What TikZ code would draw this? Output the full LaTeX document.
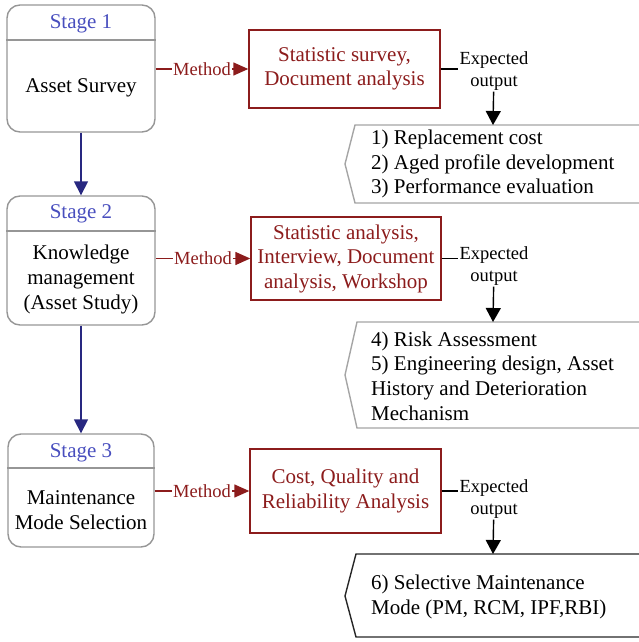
\documentclass[tikz,border=0pt]{standalone}
\usepackage{fontspec}
\setmainfont{Liberation Serif}
\newfontfamily\timesfont{Liberation Serif}
\usetikzlibrary{arrows.meta}
\definecolor{stagegray}{RGB}{150,150,150}
\definecolor{stageblue}{RGB}{72,78,190}
\definecolor{arrownavy}{RGB}{40,40,128}
\definecolor{methodred}{RGB}{140,28,28}
\definecolor{outgray}{RGB}{165,165,165}

\begin{document}
\begin{tikzpicture}[x=1pt, y=-1pt,
    stagebox/.style={rectangle, draw=stagegray, line width=1.4pt, rounded corners=13pt},
    stagetitle/.style={text=stageblue, font=\timesfont\fontsize{21}{25}\selectfont},
    bodytext/.style={align=center, font=\timesfont\fontsize{21}{25}\selectfont},
    methodbox/.style={rectangle, draw=methodred, line width=1.4pt, text=methodred, align=center, font=\timesfont\fontsize{21}{24.5}\selectfont},
    smalltext/.style={font=\timesfont\fontsize{18.5}{22}\selectfont, inner sep=1pt},
    outtext/.style={anchor=west, align=left, inner sep=0pt, font=\timesfont\fontsize{21}{24.7}\selectfont}]
    \useasboundingbox (0,0) rectangle (638,642);

    % stages
    \node at (81,68.5) [stagebox, minimum width=148pt, minimum height=127pt] (StageA) {};
    \node at (81,24) [stagetitle] (TitleA) {Stage 1};
    \node at (81,88) [bodytext] (BodyA) {Asset Survey};
    \draw[stagegray, line width=1.4pt] (StageA.west |- 0,40) -- (StageA.east |- 0,40);

    \node at (81,260.5) [stagebox, minimum width=148pt, minimum height=129pt] (StageB) {};
    \node at (81,214) [stagetitle] (TitleB) {Stage 2};
    \node at (81,279) [bodytext] (BodyB) {Knowledge\\management\\(Asset Study)};
    \draw[stagegray, line width=1.4pt] (StageB.west |- 0,231) -- (StageB.east |- 0,231);

    \node at (81,490.5) [stagebox, minimum width=146pt, minimum height=113pt] (StageC) {};
    \node at (81,453) [stagetitle] (TitleC) {Stage 3};
    \node at (81,510) [bodytext] (BodyC) {Maintenance\\Mode Selection};
    \draw[stagegray, line width=1.4pt] (StageC.west |- 0,468) -- (StageC.east |- 0,468);

    \draw[arrownavy, line width=1.6pt, -{Triangle[length=14pt,width=14pt]}] (StageA) -- (StageB);
    \draw[arrownavy, line width=1.6pt, -{Triangle[length=14pt,width=14pt]}] (StageB) -- (StageC);

    % methods
    \node at (344.5,69) [methodbox, minimum width=191pt, minimum height=78pt] (MethodA) {Statistic survey,\\Document analysis};
    \node at (346,258.5) [methodbox, minimum width=190pt, minimum height=83pt] (MethodB) {Statistic analysis,\\Interview, Document\\analysis, Workshop};
    \node at (345.5,491) [methodbox, minimum width=191pt, minimum height=84pt] (MethodC) {Cost, Quality and\\Reliability Analysis};

    \draw[methodred, line width=1.4pt, -{Triangle[length=15pt,width=13pt]}] (StageA.east |- MethodA) -- node[smalltext, fill=white, text=methodred] {Method} (MethodA);
    \draw[methodred, line width=1.4pt, -{Triangle[length=15pt,width=13pt]}] (StageB.east |- MethodB) -- node[smalltext, fill=white, text=methodred] {Method} (MethodB);
    \draw[methodred, line width=1.4pt, -{Triangle[length=15pt,width=13pt]}] (StageC.east |- MethodC) -- node[smalltext, fill=white, text=methodred] {Method} (MethodC);

    % expected outputs
    \node at (494,71) [smalltext, align=center] (ExpA) {Expected\\output};
    \node at (494,266) [smalltext, align=center] (ExpB) {Expected\\output};
    \node at (494,499) [smalltext, align=center] (ExpC) {Expected\\output};

    \draw[line width=1.2pt] (MethodA.east) -- (MethodA.east -| ExpA.west);
    \draw[line width=1.2pt] (MethodB.east) -- (MethodB.east -| ExpB.west);
    \draw[line width=1.2pt] (MethodC.east) -- (MethodC.east -| ExpC.west);

    \coordinate (OutA) at (493,125);
    \coordinate (OutB) at (493,322);
    \coordinate (OutC) at (493,554);

    \draw[outgray, line width=1.4pt] (639,125) -- (355,125) -- (345,164) -- (355,203) -- (639,203);
    \draw[outgray, line width=1.4pt] (639,322) -- (357,322) -- (345,375) -- (357,428) -- (639,428);
    \draw[black!85, line width=1.4pt] (639,554) -- (356,554) -- (345,596) -- (356,637) -- (639,637);

    \node at (371,164) [outtext] (ListA) {1) Replacement cost\\2) Aged profile development\\3) Performance evaluation};
    \node at (371,376) [outtext] (ListB) {4) Risk Assessment\\5) Engineering design, Asset\\History and Deterioration\\Mechanism};
    \node at (371,597) [outtext] (ListC) {6) Selective Maintenance\\Mode (PM, RCM, IPF,RBI)};

    \draw[line width=1.4pt, -{Triangle[length=14pt,width=15pt]}] (ExpA) -- (OutA);
    \draw[line width=1.4pt, -{Triangle[length=14pt,width=15pt]}] (ExpB) -- (OutB);
    \draw[line width=1.4pt, -{Triangle[length=14pt,width=15pt]}] (ExpC) -- (OutC);
\end{tikzpicture}
\end{document}
